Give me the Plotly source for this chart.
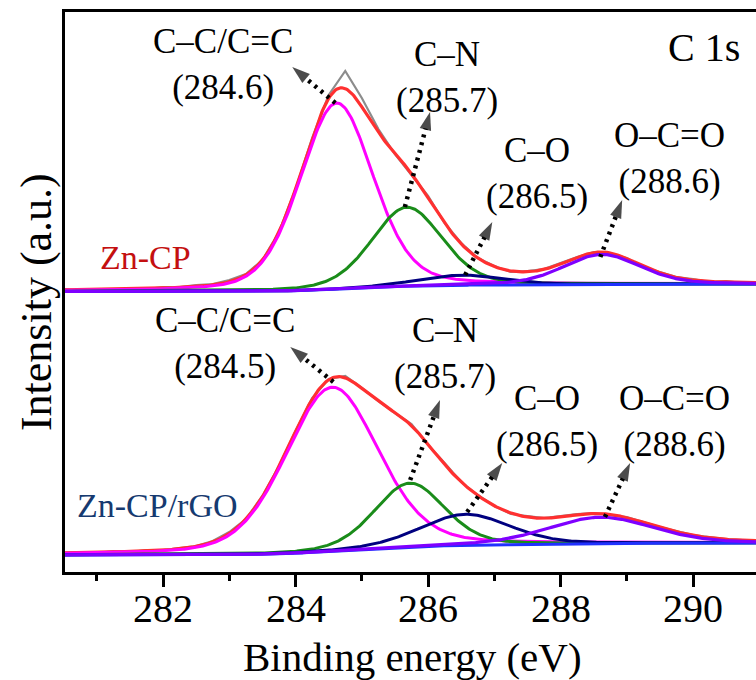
import numpy as np
import plotly.graph_objects as go

# ---------------- data ----------------
# measured binding energies (eV)
energy = [280.5, 280.75, 281.0, 281.25, 281.5, 281.75, 282.0, 282.25, 282.5, 282.75,
          283.0, 283.25, 283.5, 283.75, 284.0, 284.25, 284.5, 284.75, 285.0, 285.25,
          285.5, 285.75, 286.0, 286.25, 286.5, 286.75, 287.0, 287.25, 287.5, 287.75,
          288.0, 288.25, 288.5, 288.75, 289.0, 289.25, 289.5, 289.75, 290.0, 290.25,
          290.5, 290.75, 291.0]

# raw intensity (a.u., stacked) of Zn-CP (upper) and Zn-CP/rGO (lower)
raw_zncp = [283, 281, 283, 282, 284, 283, 285, 285, 287, 288,
            292, 298, 312, 340, 383, 434, 477, 501, 474, 443,
            418, 397, 376, 349, 329, 314, 306, 300, 301, 303,
            309, 315, 320, 318, 314, 305, 300, 295, 293, 290,
            291, 289, 290]
raw_rgo = [19, 20, 19, 21, 20, 22, 22, 24, 26, 31,
           40, 53, 76, 106, 141, 174, 193, 196, 184, 171,
           159, 148, 127, 109, 90, 77, 66, 58, 56, 54,
           56, 58, 59, 57, 55, 50, 45, 41, 37, 35,
           33, 32, 31]

# fitted components: C-C/C=C, C-N, C-O, O-C=O
comp_names = ["C–C/C=C", "C–N", "C–O", "O–C=O"]
comp_colors = ["#ff00ff", "#1a8c1a", "#00007f", "#7f00ff"]
zncp_center = [284.62, 285.68, 286.5, 288.62]
zncp_height = [186, 79, 10, 30]
zncp_fwhm = [1.3, 1.25, 1.5, 1.36]
zncp_bg = [280.5, 288.0]
rgo_center = [284.55, 285.72, 286.56, 288.6]
rgo_height = [164, 64, 31, 26.5]
rgo_fwhm = [1.65, 1.24, 1.6, 1.86]
rgo_bg = [17.0, 29.0]
lorentz_frac = 0.25

# x-axis ticks
tick_values = [282, 284, 286, 288, 290]
tick_labels = ["282", "284", "286", "288", "290"]

# annotation labels
zncp_labels = ["C–C/C=C<br>(284.6)", "C–N<br>(285.7)", "C–O<br>(286.5)", "O–C=O<br>(288.6)"]
rgo_labels = ["C–C/C=C<br>(284.5)", "C–N<br>(285.7)", "C–O<br>(286.5)", "O–C=O<br>(288.6)"]
zncp_label_pos = [(282.9, 508), (286.29, 495), (287.64, 399), (289.65, 414)]
rgo_label_pos = [(282.93, 229), (286.25, 219), (287.8, 151), (289.72, 151)]
zncp_arrows = [((284.6, 469), (283.95, 505)), ((285.65, 365), (286.03, 460)),
               ((286.56, 297), (286.97, 350)), ((288.6, 315), (288.93, 372))]
rgo_arrows = [((284.57, 190), (283.92, 225)), ((285.73, 92), (286.18, 172)),
              ((286.59, 60), (287.12, 109)), ((288.67, 55), (289.05, 109))]

# ---------------- fitting curves ----------------
xf = np.linspace(280.5, 291.0, 526)


def pvoigt(x, c, h, f):
    r = (x - c) / f
    g = np.exp(-4 * np.log(2) * r ** 2)
    lo = 1.0 / (1.0 + 4 * r ** 2)
    return h * ((1 - lorentz_frac) * g + lorentz_frac * lo)


def fit_curves(centers, heights, fwhms, bg):
    comps = [pvoigt(xf, c, h, f) for c, h, f in zip(centers, heights, fwhms)]
    total = np.sum(comps, axis=0)
    cum = np.concatenate([[0], np.cumsum((total[1:] + total[:-1]) / 2 * np.diff(xf))])
    shirley = bg[0] + (bg[1] - bg[0]) * cum / cum[-1]
    return shirley, [shirley + c for c in comps], shirley + total


FONT = "Liberation Serif"
fig = go.Figure()

for raw, centers, heights, fwhms, bg in [
    (raw_zncp, zncp_center, zncp_height, zncp_fwhm, zncp_bg),
    (raw_rgo, rgo_center, rgo_height, rgo_fwhm, rgo_bg),
]:
    shirley, comps, env = fit_curves(centers, heights, fwhms, bg)
    fig.add_trace(go.Scatter(x=energy, y=raw, mode="lines",
                             line=dict(color="#8c8c8c", width=2.2)))
    fig.add_trace(go.Scatter(x=xf, y=env, mode="lines",
                             line=dict(color="#ff3030", width=3.2)))
    for i in [0, 1, 2]:
        fig.add_trace(go.Scatter(x=xf, y=comps[i], mode="lines",
                                 line=dict(color=comp_colors[i], width=3)))
    fig.add_trace(go.Scatter(x=xf, y=shirley, mode="lines",
                             line=dict(color="#2030ff", width=3)))
    fig.add_trace(go.Scatter(x=xf, y=comps[3], mode="lines",
                             line=dict(color=comp_colors[3], width=3.2)))

# dotted arrows
for (t0, t1) in zncp_arrows + rgo_arrows:
    fig.add_trace(go.Scatter(
        x=[t0[0], t1[0]], y=[t0[1], t1[1]], mode="lines+markers",
        line=dict(color="black", width=4.5, dash="3px,5px"),
        marker=dict(symbol=["circle", "arrow"], size=[0, 19], color="black",
                    angleref="previous", line=dict(width=0)),
    ))

annotations = []
for labels, pos in [(zncp_labels, zncp_label_pos), (rgo_labels, rgo_label_pos)]:
    for t, (x, y) in zip(labels, pos):
        annotations.append(dict(x=x, y=y, text=t, showarrow=False,
                                font=dict(family=FONT, size=35, color="black")))
annotations.append(dict(x=290.17, y=525, text="C 1s", showarrow=False,
                        font=dict(family=FONT, size=40, color="black")))
annotations.append(dict(x=281.73, y=315, text="Zn-CP", showarrow=False,
                        font=dict(family=FONT, size=34, color="#c41010")))
annotations.append(dict(x=281.91, y=67, text="Zn-CP/rGO", showarrow=False,
                        font=dict(family=FONT, size=34, color="#163a70")))
# tick labels
for tv, tl in zip(tick_values, tick_labels):
    annotations.append(dict(x=tv, xref="x", y=-0.066, yref="paper",
                            xanchor="center", yanchor="middle", showarrow=False,
                            text=tl, font=dict(family=FONT, size=40, color="black")))
# axis titles
annotations.append(dict(xref="paper", yref="paper", x=0.5036, y=-0.152,
                        xanchor="center", yanchor="middle", showarrow=False,
                        text="Binding energy (eV)",
                        font=dict(family=FONT, size=41, color="black")))
annotations.append(dict(xref="paper", yref="paper", x=-0.042, y=0.482,
                        xanchor="center", yanchor="middle", showarrow=False,
                        textangle=-90, text="Intensity (a.u.)",
                        font=dict(family=FONT, size=44, color="black")))

fig.update_layout(
    width=756, height=680,
    margin=dict(l=65, r=0, t=12, b=108),
    paper_bgcolor="white", plot_bgcolor="white",
    showlegend=False,
    annotations=annotations,
    font=dict(family=FONT, color="black"),
    xaxis=dict(range=[280.52, 290.95], tickvals=tick_values, showticklabels=False,
               ticks="outside", ticklen=12, tickwidth=2.5, tickcolor="black",
               minor=dict(dtick=1, tick0=281, ticks="outside", ticklen=6,
                          tickwidth=2.5, tickcolor="black"),
               showline=True, linewidth=3, linecolor="black", mirror=True,
               showgrid=False, zeroline=False),
    yaxis=dict(range=[0, 560], showticklabels=False, ticks="",
               showline=True, linewidth=3, linecolor="black", mirror=False,
               showgrid=False, zeroline=False),
)

fig.write_html("out.html")
